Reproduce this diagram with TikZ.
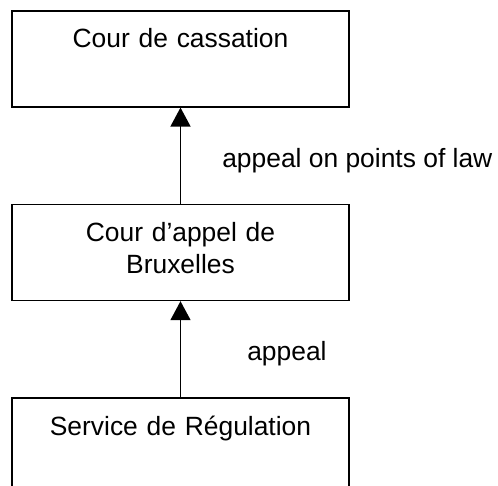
\documentclass[tikz,border=0pt]{standalone}
\usepackage{fontspec}
\setmainfont{Liberation Sans}
\usetikzlibrary{arrows.meta}
\usetikzlibrary{positioning}

\begin{document}
\begin{tikzpicture}[x=1pt,y=-1pt,>={Triangle[width=20pt,length=19pt]},
                    line width=1.6pt,node distance=96pt,
                    court/.style={rectangle,draw,inner sep=0pt,text width=337pt,align=center,
                                  text height=37pt,text depth=59pt,
                                  font=\fontsize{26.4}{31.7}\selectfont},
                    route/.style={inner sep=0pt,anchor=base west,font=\fontsize{26.4}{31.7}\selectfont}]

      \useasboundingbox (0,0) rectangle (498,485);

      \node[court,anchor=north] (cassation) at (180.5,10) {Cour de cassation};
      \node[court] (appel) [below=of cassation] {Cour d’appel de\\Bruxelles};
      \node[court] (regulation) [below=of appel] {Service de Régulation};
      \path[->]
        (appel) edge node[route,xshift=41pt,yshift=-12pt] {appeal on points of law} (cassation)
        (regulation) edge node[route,xshift=66pt,yshift=-11pt] {appeal} (appel);
    \end{tikzpicture}
\end{document}
